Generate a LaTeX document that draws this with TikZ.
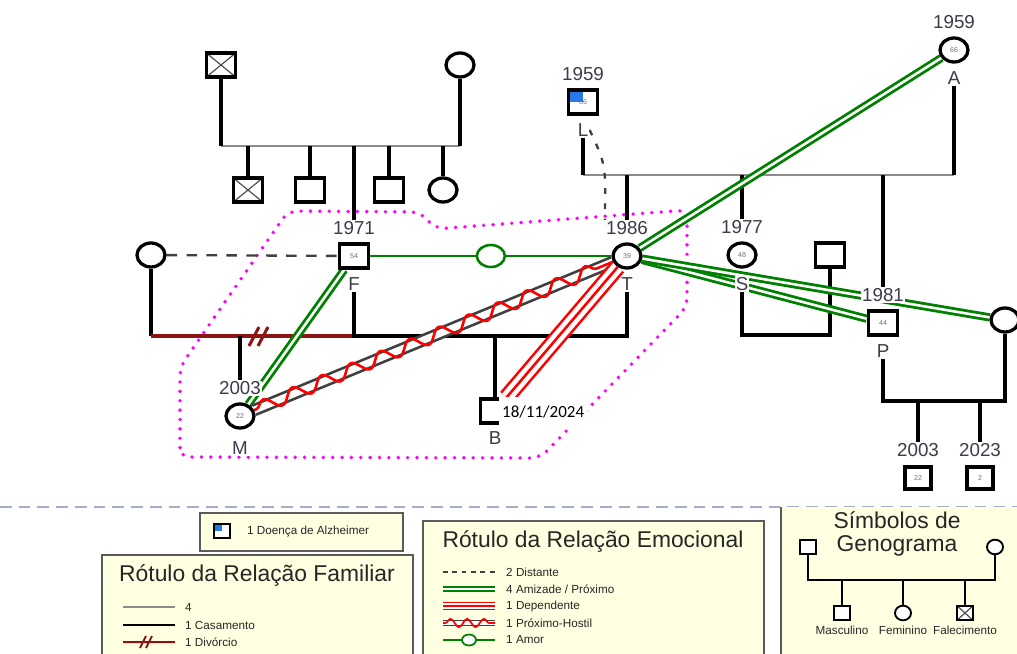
\documentclass[tikz,border=0pt]{standalone}
\usepackage{fontspec}
\setmainfont{Liberation Sans}
\newfontfamily\datefont{Carlito}
\usetikzlibrary{positioning,shapes.geometric,decorations.pathmorphing,backgrounds}

\definecolor{amizadegreen}{RGB}{0,128,0}
\definecolor{divorcered}{RGB}{140,20,20}
\definecolor{nucleomagenta}{RGB}{255,0,255}
\definecolor{legendfill}{RGB}{255,255,225}
\definecolor{legendline}{RGB}{90,90,90}
\definecolor{sepblue}{RGB}{165,175,195}
\definecolor{labelgray}{RGB}{60,60,75}
\definecolor{agegray}{RGB}{110,110,130}
\definecolor{alzblue}{RGB}{40,120,230}

\tikzset{
  person/.style={draw, line width=2.8pt, fill=white, inner sep=0pt,
    font=\fontsize{6}{6}\selectfont, text=agegray},
  male/.style={person, rectangle, minimum width=0.88cm, minimum height=0.72cm},
  kid/.style={person, rectangle, minimum width=0.78cm, minimum height=0.66cm},
  female/.style={person, ellipse, minimum width=0.84cm, minimum height=0.72cm},
  deadcross/.style={path picture={\draw[line width=1pt, black!70]
      (path picture bounding box.north west) -- (path picture bounding box.south east)
      (path picture bounding box.south west) -- (path picture bounding box.north east);}},
  dead/.style={male, deadcross},
  alzheimer/.style={path picture={\fill[alzblue] (path picture bounding box.north west)
      rectangle (path picture bounding box.center);}},
  year/.style={font=\fontsize{16}{16}\selectfont, text=labelgray, fill=white, inner sep=1pt},
  famline/.style={line width=2.6pt, black},
  sibline/.style={line width=2.2pt, black!45},
  divorce/.style={line width=2.6pt, divorcered},
  distante/.style={line width=2pt, black!75, dash pattern=on 9pt off 8pt},
  amizade/.style={line width=2.4pt, draw=amizadegreen, double=white, double distance=2.2pt},
  dependente/.style={line width=2.2pt, draw=red, double=white, double distance=10pt},
  depmid/.style={line width=2.2pt, red},
  hostilgray/.style={line width=2.3pt, draw=black!75, double=white, double distance=6pt},
  hostilred/.style={line width=2.2pt, red, decorate,
    decoration={snake, segment length=0.95cm, amplitude=5.5pt, pre length=2pt, post length=2pt}},
  amor/.style={line width=2.2pt, amizadegreen},
  amorring/.style={ellipse, draw=amizadegreen, line width=2.2pt, fill=white,
    minimum width=0.84cm, minimum height=0.66cm, inner sep=0pt},
  nucleo/.style={nucleomagenta, line width=3.3pt, line cap=round, dash pattern=on 0pt off 8pt},
  legendbox/.style={draw=legendline, line width=1.6pt, fill=legendfill},
  legtext/.style={font=\fontsize{10}{10}\selectfont, text=black!85, anchor=west, inner sep=0pt},
  legtitle/.style={font=\fontsize{19.5}{19}\selectfont, text=black!85, align=center},
  legmale/.style={draw, line width=1.6pt, fill=white, minimum width=0.48cm,
    minimum height=0.44cm, inner sep=0pt},
  legfemale/.style={legmale, ellipse},
}

\begin{document}
\begin{tikzpicture}[x=0.03cm, y=-0.03cm]
  \useasboundingbox (0,0) rectangle (1017,654);

  % grandparents and siblings of F
  \node[dead] (gpF) at (221,65) {};
  \node[female] (gpM) at (460,65) {};
  \node[dead] (sib1) at (248,190) {};
  \node[male] (sib2) at (310,190) {};
  \node[male] (sib3) at (389,190) {};
  \node[female] (sib4) at (443,190) {};

  % F, ex-wife, M and B
  \node[male] (F) at (354,256) {54};
  \node[year, above=5.5pt of F] (yF) {1971};
  \node[year, below=5.5pt of F] (nF) {F};
  \node[female] (exF) at (151,255) {};
  \node[female] (M) at (240,416) {22};
  \node[year, above=5pt of M] (yM) {2003};
  \node[year, below=9pt of M] (nM) {M};
  \node[male] (B) at (495,411) {};
  \node[year, below=5pt of B] (nB) {B};
  \node[font=\datefont\fontsize{14.5}{15}\selectfont, fill=white, inner sep=2.5pt,
    minimum height=0.9cm, anchor=west] (dB) at (499,412) {18/11/2024};

  % T, her parents and siblings
  \node[female] (T) at (627,256) {39};
  \node[year, above=5.5pt of T] (yT) {1986};
  \node[year, below=6pt of T] (nT) {T};
  \node[male, alzheimer] (L) at (583,102) {66};
  \node[year, above=5.5pt of L] (yL) {1959};
  \node[year, below=5.5pt of L] (nL) {L};
  \node[female] (A) at (954,50) {66};
  \node[year, above=5.5pt of A] (yA) {1959};
  \node[year, below=5.5pt of A] (nA) {A};
  \node[female] (S) at (742,255) {48};
  \node[year, above=5.5pt of S] (yS) {1977};
  \node[year, below=6pt of S] (nS) {S};
  \node[male] (hS) at (830,255) {};
  \node[male] (P) at (883,323) {44};
  \node[year, above=5.5pt of P] (yP) {1981};
  \node[year, below=5.5pt of P] (nP) {P};
  \node[female] (wP) at (1005,320) {};
  \node[kid] (c1) at (918,478) {22};
  \node[year, above=6pt of c1] (yC1) {2003};
  \node[kid] (c2) at (980,478) {2};
  \node[year, above=6pt of c2] (yC2) {2023};

  \begin{scope}[on background layer]
    % household
    \draw[nucleo, rounded corners=8pt] (180,457) -- (180,367) -- (288,211) -- (420,212)
      -- (436,229) -- (687,210) -- (687,307) -- (540,458) -- cycle;

    % family lines
    \coordinate (barTL) at (0,146);
    \draw[sibline] (gpF |- barTL) -- (gpM |- barTL);
    \draw[famline] (gpF) -- (gpF |- barTL);
    \draw[famline] (gpM) -- (gpM |- barTL);
    \foreach \k in {sib1,sib2,sib3,sib4}
      \draw[famline] (\k |- barTL) -- (\k);
    \draw[famline] (yF |- barTL) -- (yF);

    \coordinate (wedF) at (0,336);
    \draw[famline] (exF) -- (exF |- wedF);
    \draw[divorce] (exF |- wedF) -- (nF |- wedF);
    \draw[divorce] (249,346) -- (259,327) (258,346) -- (268,327);
    \draw[famline] (nF) -- (nF |- wedF) -- (nT |- wedF) -- (nT);
    \draw[famline] (M |- wedF) -- (yM);
    \draw[famline] (B |- wedF) -- (B);

    \coordinate (barLA) at (0,175);
    \draw[sibline] (L |- barLA) -- (A |- barLA);
    \draw[famline] (nL) -- (nL |- barLA);
    \draw[famline] (nA) -- (nA |- barLA);
    \draw[famline] (yT |- barLA) -- (yT);
    \draw[famline] (yS |- barLA) -- (yS);
    \draw[famline] (yP |- barLA) -- (yP);

    \coordinate (wedS) at (0,335);
    \draw[famline] (nS) -- (nS |- wedS) -- (hS |- wedS) -- (hS);
    \coordinate (wedP) at (0,401);
    \draw[famline] (nP) -- (nP |- wedP) -- (wP |- wedP) -- (wP);
    \draw[famline] (yC1 |- wedP) -- (yC1);
    \draw[famline] (yC2 |- wedP) -- (yC2);

    % emotional lines
    \draw[distante] (exF) -- (F);
    \draw[distante, dash pattern=on 5pt off 8pt] (nL.east) .. controls (606,165) .. (yT.north west);
    \draw[amor] (F) -- node[amorring] (ringFT) {} (T);
    \draw[amizade] (F) -- (M);
    \draw[amizade] (T) -- (A);
    \draw[amizade] (T) -- (P);
    \draw[amizade] (T) -- (wP);
    \draw[hostilgray] (M) -- (T);
    \draw[hostilred] (M) -- (T);
    \draw[dependente] (T) -- (B);
    \draw[depmid] (T) -- (B);
  \end{scope}

  % legends
  \draw[sepblue, line width=1.2pt, dash pattern=on 10pt off 6pt] (0,507) -- (1017,507);

  \draw[legendbox] (200,513) rectangle (403,551);
  \node[legmale, alzheimer] (alzIcon) at (222,531) {};
  \node[legtext] (alzText) at (247,531) {1 Doença de Alzheimer};

  \draw[legendbox] (102,555) rectangle (413,680);
  \node[legtitle] (famTitle) at (257,576) {Rótulo da Relação Familiar};
  \draw[line width=1.3pt, black!45] (123,607) -- (175,607);
  \node[legtext] (fam4) at (185,607) {4};
  \draw[line width=1.7pt] (123,625) -- (175,625);
  \node[legtext] (famCas) at (185,625) {1 Casamento};
  \draw[line width=1.7pt, divorcered] (123,642) -- (175,642)
    (140,648) -- (146,636) (146,648) -- (152,636);
  \node[legtext] (famDiv) at (185,642) {1 Divórcio};

  \draw[legendbox] (423,521) rectangle (764,680);
  \node[legtitle] (emoTitle) at (593,542) {Rótulo da Relação Emocional};
  \draw[distante, line width=1.4pt, dash pattern=on 4pt off 4pt] (443,572) -- (495,572);
  \node[legtext] (emoDist) at (506,572) {2 Distante};
  \draw[amizade, line width=1.5pt, double distance=2.5pt] (443,589) -- (495,589);
  \node[legtext] (emoAmiz) at (506,589) {4 Amizade / Próximo};
  \draw[dependente, line width=1.4pt, double distance=4.5pt] (443,606) -- (495,606);
  \draw[depmid, line width=1.4pt] (443,606) -- (495,606);
  \node[legtext] (emoDep) at (506,606) {1 Dependente};
  \draw[hostilgray, line width=1.4pt, double distance=3pt] (443,623) -- (495,623);
  \draw[hostilred, line width=1.5pt, decoration={snake, segment length=0.5cm, amplitude=3.5pt}] (443,623) -- (495,623);
  \node[legtext] (emoHost) at (506,623) {1 Próximo-Hostil};
  \draw[amor, line width=1.5pt] (443,640) -- (495,640);
  \node[amorring, line width=1.5pt, minimum width=0.42cm, minimum height=0.33cm] (emoRing) at (469,640) {};
  \node[legtext] (emoAmor) at (506,640) {1 Amor};

  \fill[legendfill] (781,507) rectangle (1030,680);
  \draw[legendline, line width=1.6pt] (781,507) -- (781,680);
  \node[legtitle] (symTitle) at (897,534) {Símbolos de\\Genograma};
  \node[legmale] (symM) at (808,547) {};
  \node[legfemale] (symF) at (995,547) {};
  \coordinate (symBar) at (0,580);
  \draw[line width=1.7pt] (symM) -- (symM |- symBar) -- (symF |- symBar) -- (symF);
  \node[legmale] (symC1) at (842,613) {};
  \node[legfemale] (symC2) at (903,613) {};
  \node[legmale, deadcross] (symC3) at (965,613) {};
  \foreach \c in {symC1,symC2,symC3}
    \draw[line width=1.7pt] (\c |- symBar) -- (\c);
  \node[legtext, below=4pt of symC1] (symL1) {Masculino};
  \node[legtext, below=4pt of symC2] (symL2) {Feminino};
  \node[legtext, below=4pt of symC3] (symL3) {Falecimento};
\end{tikzpicture}
\end{document}
